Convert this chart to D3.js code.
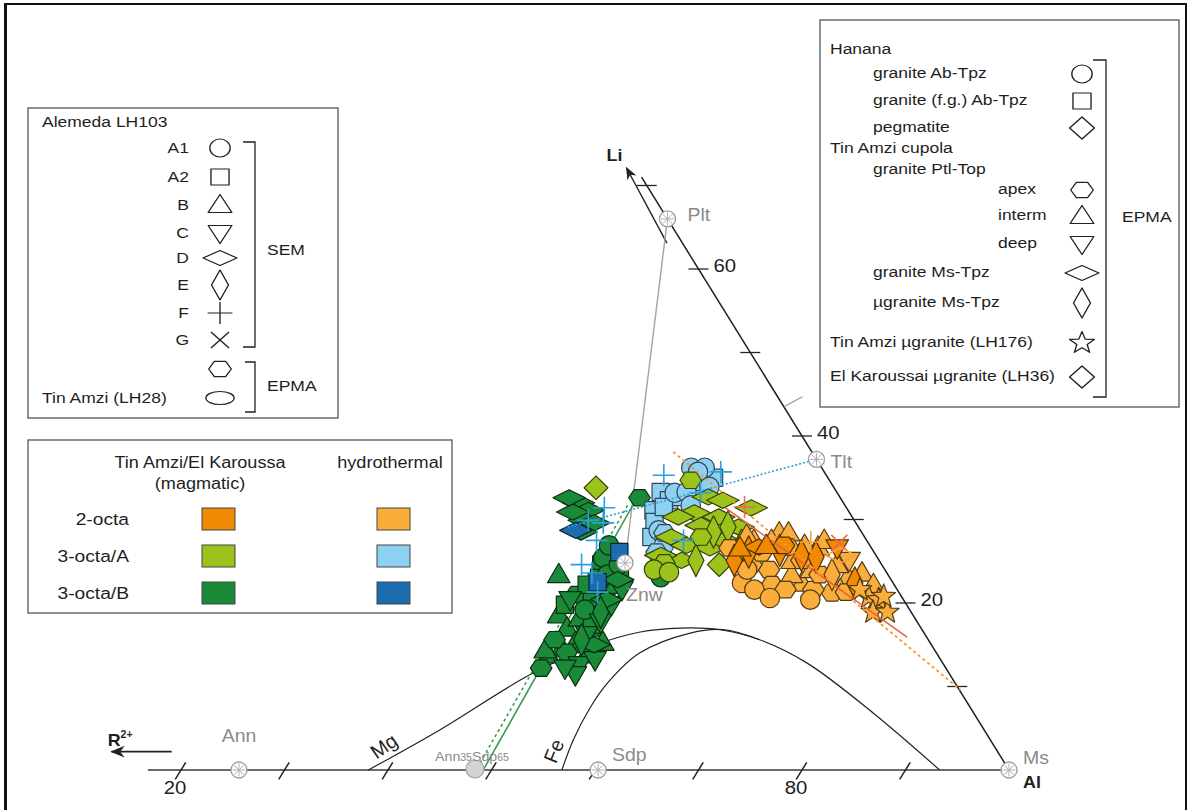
<!DOCTYPE html>
<html lang="en">
<head>
<meta charset="utf-8">
<title>Li – R2+ – Al diagram of micas</title>
<script src="https://cdn.jsdelivr.net/npm/d3@7/dist/d3.min.js"></script>
<style>
  html, body { margin: 0; padding: 0; background: #fff; }
  svg { display: block; }
  text { font-family: "Liberation Sans", Arial, Helvetica, sans-serif; }
</style>
</head>
<body>
<svg id="chart" width="1190" height="810"></svg>
<script>
// ---------------------------------------------------------------------------
// Data: compositions in the Li – R2+ – Al plane, given as [Al %, Li %, symbol]
// ---------------------------------------------------------------------------

// Tin Amzi / El Karoussa, magmatic 3-octa/B micas
const octaB_magmatic = [
  [42.4,32.0,"dW"],[43.8,31.1,"dW"],[44.0,29.9,"dW"],[45.1,29.6,"dW"],[42.4,30.9,"dW"],[41.2,32.6,"dW"],[44.4,28.5,"dW"],
  [48.0,32.6,"hex"],
  [44.8,23.4,"tri"],[47.2,18.6,"tri"],[48.8,17.0,"tri"],[50.5,15.3,"tri"],[52.3,13.8,"tri"],[49.4,18.2,"tri"],
  [51.4,17.0,"tri"],[53.1,15.3,"tri"],[51.1,13.2,"tri"],[50.1,20.4,"tri"],[49.5,14.6,"tri"],[48.6,13.8,"tri"],[48.0,14.4,"tri"],
  [48.7,12.2,"hex"],[50.2,14.1,"hex"],[51.4,15.0,"hex"],[50.7,18.9,"hex"],[50.4,21.8,"hex"],[49.7,24.2,"hex"],[47.7,21.0,"hex"],[48.3,15.6,"hex"],
  [49.4,20.6,"sq"],[48.3,24.6,"sq"],[48.7,26.1,"sq"],[50.8,22.2,"sq"],[48.9,23.0,"sq"],[48.1,22.2,"sq"],[51.0,17.4,"sq"],[47.2,19.8,"sq"],[50.4,24.0,"sq"],
  [48.1,25.4,"circ"],[49.5,23.4,"circ"],[50.0,24.6,"circ"],[49.4,19.2,"circ"],[47.9,26.9,"circ"],[54.8,23.1,"circ"],
  [51.1,16.2,"triD"],[51.7,17.7,"triD"],[51.7,19.8,"triD"],[52.2,12.6,"triD"],[53.4,13.2,"triD"],[51.8,21.6,"triD"],[52.4,11.4,"triD"],
  [47.4,20.4,"triD"],[51.0,12.2,"triD"],
  [50.9,20.4,"dW"],[50.8,22.8,"dW"],[52.4,15.0,"dW"],
  [51.1,18.9,"dT"],[50.9,15.6,"dT"]
];
// hydrothermal 3-octa/B
const octaB_hydro = [ [49.3,26.1,"sq"],[49.0,22.5,"sq"],[43.8,28.7,"dW"] ];

// hydrothermal 3-octa/A
const octaA_hydro = [
  [49.7,33.3,"sq"],[50.1,31.1,"sq"],[50.9,29.7,"sq"],[51.0,32.3,"sq"],[51.8,32.7,"sq"],[52.7,34.5,"sq"],[51.5,27.9,"sq"],[50.9,31.5,"sq"],[54.0,35.0,"sq"],
  [51.2,36.2,"circ"],[52.5,36.2,"circ"],[51.1,33.2,"circ"],[52.2,33.3,"circ"],[51.8,28.7,"circ"],[53.2,26.9,"circ"],[52.1,35.7,"circ"],[54.1,33.9,"circ"],[53.4,31.7,"circ"],
  [52.5,28.4,"hex"],[52.9,26.1,"hex"]
];
// magmatic 3-octa/A
const octaA_magmatic = [
  [54.6,32.7,"dW"],[56.2,32.3,"dW"],[54.2,30.8,"dW"],[52.9,30.3,"dW"],[56.8,30.3,"dW"],[55.6,29.3,"dW"],[59.3,29.1,"dW"],
  [53.4,27.9,"dW"],[55.4,26.9,"dW"],[57.8,26.6,"dW"],[58.7,27.5,"dW"],[55.8,25.1,"dW"],[59.4,31.4,"dW"],[53.5,25.7,"dW"],
  [58.3,29.1,"dT"],[57.2,28.5,"dT"],[57.2,25.1,"dT"],[60.7,26.9,"dT"],
  [43.2,33.8,"dR"],[59.7,24.6,"dR"],
  [51.9,34.7,"hex"],[56.3,27.9,"hex"],[54.3,24.8,"hex"],
  [53.7,24.0,"circ"],[55.3,23.7,"circ"]
];

// hydrothermal 2-octa
const octa2_hydro = [
  [61.6,27.5,"tri"],[63.6,28.4,"tri"],[64.5,28.4,"tri"],[68.8,22.4,"tri"],[68.2,26.7,"tri"],[68.4,27.5,"tri"],[72.9,23.1,"tri"],
  [74.0,23.6,"tri"],[63.3,27.5,"tri"],[71.1,24.6,"tri"],[68.9,24.0,"tri"],[67.3,23.4,"tri"],[60.6,28.1,"tri"],[75.8,22.2,"tri"],
  [66.5,25.1,"tri"],[72.9,21.6,"tri"],[66.8,26.9,"tri"],[77.3,20.4,"tri"],
  [65.3,26.7,"hex"],[64.8,24.0,"hex"],[66.0,22.2,"hex"],[72.3,21.2,"hex"],[62.8,24.6,"hex"],[70.3,21.6,"hex"],[73.6,21.3,"hex"],
  [67.4,25.1,"hex"],[63.1,26.0,"hex"],[59.7,26.6,"hex"],[70.0,23.4,"hex"],[67.6,21.6,"hex"],
  [63.0,22.4,"circ"],[64.6,21.6,"circ"],[66.6,20.6,"circ"],[62.7,24.0,"circ"],[70.6,20.4,"circ"],
  [72.0,25.1,"triD"],[71.2,23.4,"dT"]
];
// magmatic 2-octa
const octa2_magmatic = [
  [61.8,26.1,"dT"],[67.1,25.7,"dT"],[68.6,25.5,"dT"],[73.9,22.4,"dT"],[64.7,26.3,"dT"],[60.9,25.1,"dT"],
  [62.5,26.7,"dW"],[64.8,26.9,"hex"],[63.1,26.9,"tri"],[60.7,26.6,"tri"],[70.1,26.6,"triD"]
];
// Tin Amzi µgranite (LH176), hydrothermal 2-octa
const lh176 = [ [76.1,20.7,"star"],[77.2,20.4,"star"],[77.4,18.9,"star"],[78.8,18.9,"star"],[77.5,20.8,"star"],[74.8,21.6,"star"] ];

// SEM open symbols (F "+", G "×", D)
const semBlue  = [ [45.2,31.4],[46.0,29.6],[44.4,29.9],[49.0,35.3],[54.3,35.7],[49.6,21.3],[47.9,23.6],[54.8,27.5],[46.4,24.6],[46.4,27.5],[53.6,33.2] ];
const semRed   = [ [58.7,31.5,"plus"],[70.0,27.2,"cross"] ];
const semAmber = [ [67.2,27.3,"plus"],[70.9,25.7,"dW"] ];

// End-members
const endMembers = [
  { name: "Plt", al: 34.0,  li: 66.0 },
  { name: "Tlt", al: 62.8,  li: 37.2 },
  { name: "Znw", al: 50.5,  li: 24.8 },
  { name: "Ann", al: 25.6,  li: 0 },
  { name: "Sdp", al: 60.3,  li: 0 },
  { name: "Ms",  al: 100.0, li: 0 }
];
const annSdp = { al: 48.4, li: 0 };

// Boundary curves of the Mg- and Fe- fields
const curveMg = [[38.1,0],[42.6,4.8],[48.0,11.4],[52.4,14.9],[56.0,16.5],[59.7,17.0],[63.7,16.8],[68.1,15.6],[74.1,12.8],[83.5,6.8],[93.3,0]];
const curveFe = [[56.8,0],[56.1,3.6],[55.8,7.4],[56.0,10.4],[57.3,14.0],[61.0,16.4],[64.0,16.8],[68.1,15.6]];

// Trend / tie lines [from, to]
const linePltZnw   = [[34.0,66.0],[50.5,24.8]];
const lineTltBlue  = [[62.8,37.2],[42.6,29.0]];
const lineGreen    = [[47.8,31.7],[49.2,0]];
const lineGreenDot = [[47.3,31.7],[48.5,0]];
const lineOrange   = [[48.5,38.1],[90.5,9.6]];
const lineRed      = [[56.9,31.4],[82.2,15.9]];

// Axes
const liTicks = [10,20,30,40,50,60,70];
const liTickLabels = [20,40,60];
const alTicks = [20,30,40,50,60,70,80,90];
const alTickLabels = [20,80];

// Legend contents
const legendSEM  = [["A1","circ"],["A2","sq"],["B","tri"],["C","triD"],["D","dW"],["E","dT"],["F","plus"],["G","cross"]];
const legendHanana = [
  ["Hanana", null, 0], ["granite Ab-Tpz","circ",1], ["granite (f.g.) Ab-Tpz","sq",1], ["pegmatite","dR",1],
  ["Tin Amzi cupola", null, 0], ["granite Ptl-Top", null, 1], ["apex","hex",2], ["interm","tri",2], ["deep","triD",2],
  ["granite Ms-Tpz","dW",1], ["µgranite Ms-Tpz","dT",1], ["Tin Amzi µgranite (LH176)","star",0], ["El Karoussai µgranite (LH36)","dR",0]
];
const micaTypes = ["2-octa","3-octa/A","3-octa/B"];
const colours = {
  magmatic:     { "2-octa": "#f08a02", "3-octa/A": "#9cc31c", "3-octa/B": "#1b8a38" },
  hydrothermal: { "2-octa": "#f9ad3b", "3-octa/A": "#8dd0f2", "3-octa/B": "#1c6cae" }
};

// ---------------------------------------------------------------------------
// Scales: Al along the base, Li up towards the apex
// ---------------------------------------------------------------------------
const svg = d3.select("#chart");
const xBase = d3.scaleLinear().domain([0, 100]).range([-26, 1009]);
const yLi   = d3.scaleLinear().domain([0, 100]).range([770, -65]);
const proj = (al, li) => [xBase(al + li / 2), yLi(li)];
const SX = 1.13;   // horizontal stretch of lettering and legend glyphs
const MK = 1.08;   // size of the analysis symbols

function txt(parent, x, y, str, o = {}) {
  const t = parent.append("text")
    .attr("transform", `translate(${x},${y}) scale(${o.sx ?? SX},1)${o.rot ? ` rotate(${o.rot})` : ""}`)
    .attr("font-size", o.size || 15.5)
    .attr("fill", o.fill || "#1e1e1e")
    .attr("text-anchor", o.anchor || "start")
    .attr("dy", o.dy ?? "0.35em");
  if (o.weight) t.attr("font-weight", o.weight);
  if (str !== null) t.text(str);
  return t;
}

function shapePath(shape, k = 1) {
  const P = pts => "M" + pts.map(p => (p[0] * k).toFixed(2) + "," + (p[1] * k).toFixed(2)).join("L") + "Z";
  switch (shape) {
    case "circ": { const r = 9 * k; return `M${-r},0A${r},${r} 0 1,0 ${r},0A${r},${r} 0 1,0 ${-r},0Z`; }
    case "ell":  { const rx = 12.5 * k, ry = 6.5 * k; return `M${-rx},0A${rx},${ry} 0 1,0 ${rx},0A${rx},${ry} 0 1,0 ${-rx},0Z`; }
    case "sq":   return P([[-8,-8],[8,-8],[8,8],[-8,8]]);
    case "tri":  return P([[0,-10.5],[10.5,7.5],[-10.5,7.5]]);
    case "triD": return P([[0,10.5],[10.5,-7.5],[-10.5,-7.5]]);
    case "dW":   return P([[-15,0],[0,-7.5],[15,0],[0,7.5]]);
    case "dT":   return P([[-7.5,0],[0,-15],[7.5,0],[0,15]]);
    case "dR":   return P([[-11,0],[0,-11],[11,0],[0,11]]);
    case "hex":  return P(d3.range(6).map(i => [10 * Math.cos(i * Math.PI / 3), 8.8 * Math.sin(i * Math.PI / 3)]));
    case "star": return P(d3.range(10).map(i => { const r = i % 2 ? 4.8 : 11.5, a = -Math.PI / 2 + i * Math.PI / 5; return [r * Math.cos(a), r * Math.sin(a)]; }));
    case "plus": return `M${-11*k},0H${11*k}M0,${-11*k}V${11*k}`;
    case "cross":return `M${-8*k},${-8*k}L${8*k},${8*k}M${-8*k},${8*k}L${8*k},${-8*k}`;
  }
}
const lineGen = d3.line().x(d => proj(d[0], d[1])[0]).y(d => proj(d[0], d[1])[1]);

// ---------------------------------------------------------------------------
// Frame
// ---------------------------------------------------------------------------
svg.append("rect").attr("x", 5).attr("y", 4).attr("width", 1181).attr("height", 830)
  .attr("fill", "none").attr("stroke", "#111").attr("stroke-width", 2);
svg.append("line").attr("x1", 5.5).attr("x2", 5.5).attr("y1", 4).attr("y2", 810)
  .attr("stroke", "#111").attr("stroke-width", 3);

svg.append("defs").append("marker")
  .attr("id", "arrow").attr("viewBox", "0 0 10 10").attr("refX", 9).attr("refY", 5)
  .attr("markerWidth", 9).attr("markerHeight", 9).attr("orient", "auto-start-reverse")
  .append("path").attr("d", "M0,1L10,5L0,9L3,5Z").attr("fill", "#222");

// ---------------------------------------------------------------------------
// Diagram frame: base (Al) and right (Li) edges
// ---------------------------------------------------------------------------
const plot = svg.append("g");
plot.append("path").attr("d", lineGen([[16.8,0],[100,0]]))
  .attr("stroke", "#3a3a3a").attr("stroke-width", 1.6).attr("fill", "none");
plot.append("path").attr("d", lineGen([[100,0],[29,71]]))
  .attr("stroke", "#1e1e1e").attr("stroke-width", 1.5).attr("fill", "none");

// base ticks, drawn parallel to the R2+–Li side
const leftDir = (() => { const a = proj(0,0), b = proj(0,100); const dx = b[0]-a[0], dy = b[1]-a[1], n = Math.hypot(dx,dy); return [dx/n, dy/n]; })();
alTicks.forEach(v => {
  const [x, y] = proj(v, 0);
  plot.append("line")
    .attr("x1", x - leftDir[0] * 11).attr("y1", y - leftDir[1] * 11)
    .attr("x2", x + leftDir[0] * 9).attr("y2", y + leftDir[1] * 9)
    .attr("stroke", "#222").attr("stroke-width", 1.5);
});
alTickLabels.forEach(v => { const [x, y] = proj(v, 0); txt(plot, x - 6, y + 18, String(v), { size: 18, anchor: "middle" }); });

// Li ticks on the right edge
liTicks.forEach(v => {
  const [x, y] = proj(100 - v, v);
  plot.append("line").attr("x1", x - 10).attr("x2", x + 10).attr("y1", y).attr("y2", y)
    .attr("stroke", "#222").attr("stroke-width", 1.3);
});
liTickLabels.forEach(v => { const [x, y] = proj(100 - v, v); txt(plot, x + 15, y - 3, String(v), { size: 18 }); });

// small mark on the Li edge
plot.append("path").attr("d", lineGen([[56.5,43.5],[57.7,44.7]])).attr("stroke", "#9a9a9a").attr("stroke-width", 1.3);

// Li and R2+ arrows
plot.append("path").attr("d", lineGen([[35.4,63.1],[27.0,72.1]])).attr("stroke", "#222").attr("stroke-width", 1.4)
  .attr("fill", "none").attr("marker-end", "url(#arrow)");
plot.append("path").attr("d", lineGen([[18.0,2.2],[12.2,2.2]])).attr("stroke", "#222").attr("stroke-width", 1.6)
  .attr("fill", "none").attr("marker-end", "url(#arrow)");
{
  const [lx, ly] = proj(27.0, 72.1);
  txt(plot, lx - 20, ly - 13, "Li", { size: 17, weight: "bold", sx: 1.05 });
  const [rx, ry] = proj(12.2, 2.2);
  const t = txt(plot, rx - 4, ry - 12, null, { size: 17, weight: "bold", sx: 1.05 });
  t.append("tspan").text("R");
  t.append("tspan").attr("font-size", 10).attr("dy", "-0.8em").text("2+");
  const [mx, my] = proj(100, 0);
  txt(plot, mx + 14, my + 12, "Al", { size: 17, weight: "bold", sx: 1.05 });
}

// Mg / Fe field boundaries
const smooth = d3.line().curve(d3.curveCatmullRom.alpha(0.5)).x(d => proj(d[0], d[1])[0]).y(d => proj(d[0], d[1])[1]);
plot.append("path").attr("d", smooth(curveMg)).attr("fill", "none").attr("stroke", "#222").attr("stroke-width", 1.2);
plot.append("path").attr("d", smooth(curveFe)).attr("fill", "none").attr("stroke", "#222").attr("stroke-width", 1.2);
{
  const [gx] = proj(39.5, 0);
  txt(plot, gx + 1, 746, "Mg", { size: 20, anchor: "middle", rot: -35, sx: 1.0 });
  const [fx] = proj(56.8, 0);
  txt(plot, fx - 8, 751, "Fe", { size: 20, anchor: "middle", rot: -68, sx: 1.0 });
}

// tie lines drawn beneath the analyses
plot.append("path").attr("d", lineGen(linePltZnw)).attr("stroke", "#a3a3a3").attr("stroke-width", 1.4).attr("fill", "none");
plot.append("path").attr("d", lineGen(lineGreen)).attr("stroke", "#2f9a4a").attr("stroke-width", 1.5).attr("fill", "none");
plot.append("path").attr("d", lineGen(lineGreenDot)).attr("stroke", "#2f9a4a").attr("stroke-width", 1.5)
  .attr("stroke-dasharray", "3,3").attr("fill", "none");

// ---------------------------------------------------------------------------
// Analyses
// ---------------------------------------------------------------------------
function drawSeries(data, fill) {
  const stroke = d3.color(fill).darker(3).formatHex();
  plot.append("g").selectAll("path").data(data).join("path")
    .attr("transform", d => { const [x, y] = proj(d[0], d[1]); return `translate(${x},${y})`; })
    .attr("d", d => shapePath(d[2], MK))
    .attr("fill", fill).attr("stroke", stroke).attr("stroke-width", 1.2).attr("stroke-linejoin", "round");
}
drawSeries(octaB_magmatic, colours.magmatic["3-octa/B"]);
drawSeries(octaB_hydro, colours.hydrothermal["3-octa/B"]);
drawSeries(octaA_hydro, colours.hydrothermal["3-octa/A"]);
drawSeries(octaA_magmatic, colours.magmatic["3-octa/A"]);
drawSeries(octa2_hydro, colours.hydrothermal["2-octa"]);
drawSeries(octa2_magmatic, colours.magmatic["2-octa"]);
drawSeries(lh176, colours.hydrothermal["2-octa"]);

// trend lines over the analyses
plot.append("path").attr("d", lineGen(lineTltBlue)).attr("stroke", "#2aa0da").attr("stroke-width", 1.6)
  .attr("stroke-dasharray", "2,2").attr("fill", "none");
plot.append("path").attr("d", lineGen(lineOrange)).attr("stroke", "#f39a2a").attr("stroke-width", 1.8)
  .attr("stroke-dasharray", "3,3").attr("fill", "none");
plot.append("path").attr("d", lineGen(lineRed)).attr("stroke", "#e8603c").attr("stroke-width", 1.5).attr("fill", "none");

// SEM open symbols
plot.append("g").selectAll("path").data(semBlue).join("path")
  .attr("transform", d => { const [x, y] = proj(d[0], d[1]); return `translate(${x},${y})`; })
  .attr("d", shapePath("plus")).attr("stroke", "#2b9fe0").attr("stroke-width", 1.6).attr("fill", "none");
plot.append("g").selectAll("path").data(semRed).join("path")
  .attr("transform", d => { const [x, y] = proj(d[0], d[1]); return `translate(${x},${y})`; })
  .attr("d", d => shapePath(d[2])).attr("stroke", "#f06a4c").attr("stroke-width", 1.6).attr("fill", "none");
plot.append("g").selectAll("path").data(semAmber).join("path")
  .attr("transform", d => { const [x, y] = proj(d[0], d[1]); return `translate(${x},${y})`; })
  .attr("d", d => shapePath(d[2])).attr("stroke", "#f5a43a").attr("stroke-width", 1.6).attr("fill", "none");

// ---------------------------------------------------------------------------
// End-members
// ---------------------------------------------------------------------------
const emLayout = {
  Plt: { dx: 20, dy: -4 }, Tlt: { dx: 14, dy: 2 }, Znw: { dx: 1, dy: 32 },
  Ann: { dx: 0, dy: -34, anchor: "middle" }, Sdp: { dx: 14, dy: -15 }, Ms: { dx: 14, dy: -12 }
};
endMembers.forEach(m => {
  const [x, y] = proj(m.al, m.li);
  const g = plot.append("g").attr("transform", `translate(${x},${y})`);
  g.append("circle").attr("r", 8).attr("fill", "#fff").attr("stroke", "#9c9c9c").attr("stroke-width", 1.3);
  d3.range(4).forEach(i => {
    const a = i * Math.PI / 4;
    g.append("line").attr("x1", -6.5 * Math.cos(a)).attr("y1", -6.5 * Math.sin(a))
      .attr("x2", 6.5 * Math.cos(a)).attr("y2", 6.5 * Math.sin(a))
      .attr("stroke", "#b0b0b0").attr("stroke-width", 1);
  });
  const L = emLayout[m.name];
  txt(plot, x + L.dx, y + L.dy, m.name, { size: 18, fill: "#8a8a8a", anchor: L.anchor || "start", sx: 1.08 });
});
{
  const [x, y] = proj(annSdp.al, annSdp.li);
  plot.append("circle").attr("cx", x).attr("cy", y - 1).attr("r", 9)
    .attr("fill", "#d3d3d3").attr("stroke", "#a5a5a5").attr("stroke-width", 1.2);
  const t = txt(plot, x - 3, y - 14, null, { size: 13.5, fill: "#8a8a8a", anchor: "middle", sx: 1.05 });
  t.append("tspan").text("Ann");
  t.append("tspan").attr("font-size", 10).text("35");
  t.append("tspan").text("Sdp");
  t.append("tspan").attr("font-size", 10).text("65");
}

// ---------------------------------------------------------------------------
// Legends
// ---------------------------------------------------------------------------
function glyph(parent, x, y, shape, k = 1) {
  parent.append("path").attr("transform", `translate(${x},${y}) scale(${SX},1)`)
    .attr("d", shapePath(shape, k)).attr("fill", "#fff").attr("stroke", "#222")
    .attr("stroke-width", 1.2).attr("stroke-linejoin", "round");
}
function bracket(parent, x0, x1, y0, y1) {
  parent.append("path").attr("d", `M${x0},${y0}H${x1}V${y1}H${x0}`)
    .attr("fill", "none").attr("stroke", "#222").attr("stroke-width", 1.3);
}

// Alemeda LH103 / Tin Amzi LH28
{
  const g = svg.append("g");
  g.append("rect").attr("x", 28).attr("y", 108).attr("width", 310).attr("height", 310)
    .attr("fill", "#fff").attr("stroke", "#555").attr("stroke-width", 1.3);
  txt(g, 42, 122, "Alemeda LH103");
  const ys = [148,177,205,233,258,285,313,340];
  legendSEM.forEach((d, i) => {
    txt(g, 189, ys[i], d[0], { anchor: "end" });
    glyph(g, 220, ys[i], d[1]);
  });
  bracket(g, 243, 255, 142, 347);
  txt(g, 267, 250, "SEM");
  glyph(g, 220, 369, "hex");
  glyph(g, 220, 398, "ell");
  txt(g, 42, 398, "Tin Amzi (LH28)");
  bracket(g, 245, 255, 362, 412);
  txt(g, 267, 386, "EPMA");
}

// Hanana / Tin Amzi cupola
{
  const g = svg.append("g");
  g.append("rect").attr("x", 820).attr("y", 20).attr("width", 359).attr("height", 387)
    .attr("fill", "#fff").attr("stroke", "#555").attr("stroke-width", 1.3);
  const ys = [49,73,100,127,148,169,189,215,243,272,302,342,376];
  const xs = [830, 873, 998];
  legendHanana.forEach((d, i) => {
    txt(g, xs[d[2]], ys[i], d[0]);
    if (d[1]) glyph(g, 1082, ys[i] + 1, d[1]);
  });
  bracket(g, 1093, 1106, 60, 397);
  txt(g, 1122, 217, "EPMA");
}

// colour key
{
  const g = svg.append("g");
  g.append("rect").attr("x", 28).attr("y", 440).attr("width", 424).attr("height", 173)
    .attr("fill", "#fff").attr("stroke", "#555").attr("stroke-width", 1.3);
  txt(g, 200, 462, "Tin Amzi/El Karoussa", { size: 16, anchor: "middle" });
  txt(g, 200, 483, "(magmatic)", { size: 16, anchor: "middle" });
  txt(g, 390, 462, "hydrothermal", { size: 16, anchor: "middle" });
  const rows = [519, 556, 593];
  micaTypes.forEach((m, i) => {
    txt(g, 129, rows[i], m, { size: 17, anchor: "end" });
    g.append("rect").attr("x", 202).attr("y", rows[i] - 11).attr("width", 33).attr("height", 22)
      .attr("fill", colours.magmatic[m]).attr("stroke", "#444").attr("stroke-width", 1);
    g.append("rect").attr("x", 377).attr("y", rows[i] - 11).attr("width", 33).attr("height", 22)
      .attr("fill", colours.hydrothermal[m]).attr("stroke", "#444").attr("stroke-width", 1);
  });
}
</script>
</body>
</html>
